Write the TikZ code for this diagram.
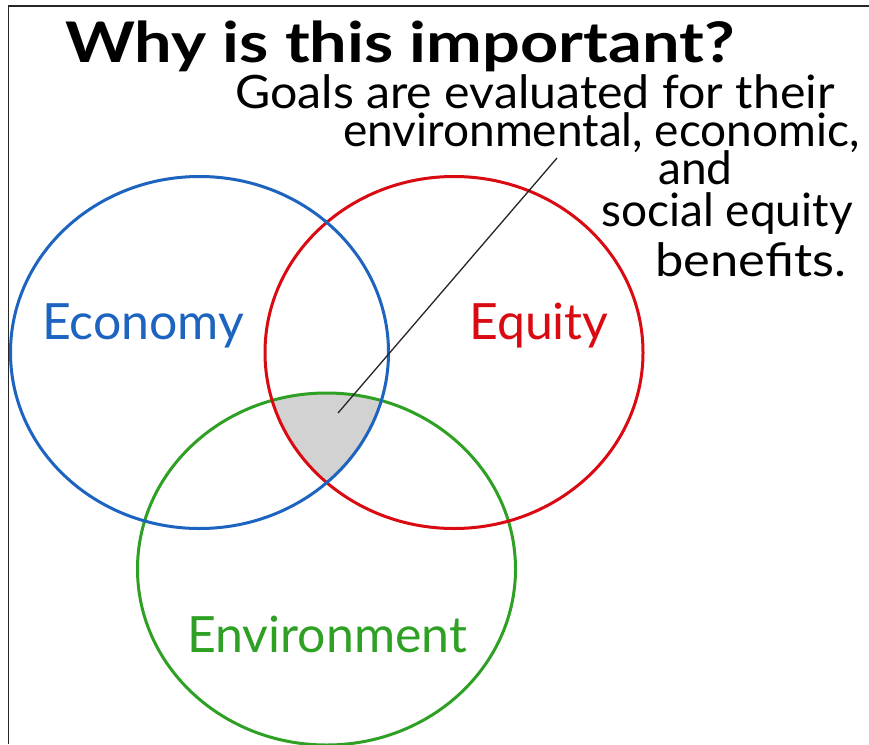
\documentclass[tikz,border=0pt]{standalone}
\usepackage{fontspec}
\setmainfont{Lato}
\definecolor{econblue}{HTML}{1C64C0}
\definecolor{eqred}{HTML}{DA0A12}
\definecolor{envgreen}{HTML}{2EA024}
\definecolor{overlap}{HTML}{D2D2D2}
\tikzset{
  ring/.style={line width=3pt},
  bodytext/.style={anchor=base west, inner sep=0pt, font=\fontsize{46}{46}\selectfont},
  circlabel/.style={anchor=base west, inner sep=0pt, font=\fontsize{50}{50}\selectfont},
  pointer/.style={line width=1.3pt, black!85}
}
\begin{document}
\begin{tikzpicture}[x=1pt,y=-1pt]
\useasboundingbox (0,0) rectangle (869,744);
\fill[white] (0,0) rectangle (869,744);
% frame
\draw[line width=1.5pt, black!85] (869,6) -- (8.5,6) -- (8.5,744);
% overlap of all three
\begin{scope}
  \clip (199.5,352.5) ellipse [x radius=189pt, y radius=176pt];
  \clip (454,352.5) ellipse [x radius=189pt, y radius=176pt];
  \fill[overlap] (326.5,569) ellipse [x radius=189pt, y radius=176pt];
\end{scope}
% circles
\draw[ring, envgreen] (326.5,569) ellipse [x radius=189pt, y radius=176pt];
\draw[ring, eqred] (454,352.5) ellipse [x radius=189pt, y radius=176pt];
\draw[ring, econblue] (199.5,352.5) ellipse [x radius=189pt, y radius=176pt];
% labels
\node[circlabel, text=econblue] (econ) at (42,339) {Economy};
\node[circlabel, text=eqred] (equity) at (469,339) {Equity};
\node[circlabel, text=envgreen] (env) at (187,652) {Environment};
% title
\node[anchor=base west, inner sep=0pt, font=\fontsize{56}{56}\selectfont\bfseries] (title) at (65,62) {\scalebox{1.19}[1]{Why is this important?}};
% body text
\node[bodytext] (l1) at (235,108) {\scalebox{1.05}[1]{Goals are evaluated for their}};
\node[bodytext] (l2) at (343,146) {environmental, economic,};
\node[bodytext] (l3) at (658,184) {and};
\node[bodytext] (l4) at (601,226) {social equity};
\node[bodytext] (l5) at (655,276) {\scalebox{1.1}[1]{benefits.}};
% pointer
\coordinate (tip) at (338,413);
\coordinate (tail) at (557,158);
\draw[pointer] (tip) -- (tail);
\end{tikzpicture}
\end{document}
